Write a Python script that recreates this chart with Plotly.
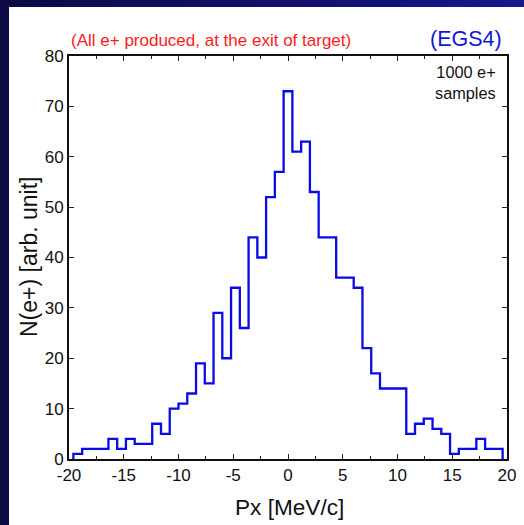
import numpy as np
import plotly.graph_objects as go

# Histogram of positron transverse momentum: 49 bins of 0.8 MeV/c from -19.6 to 19.6
bin_start = -19.6
bin_width = 0.8
counts = [1, 2, 2, 2, 4, 2, 4, 3, 3, 7, 5, 10, 11, 13, 19, 15, 29, 20, 34, 26,
          44, 40, 52, 57, 73, 61, 63, 53, 44, 44, 36, 36, 34, 22, 17, 14, 14, 14,
          5, 7, 8, 6, 5, 1, 2, 2, 4, 2, 2]

x_ticks = [-20, -15, -10, -5, 0, 5, 10, 15, 20]
y_ticks = [0, 10, 20, 30, 40, 50, 60, 70, 80]

W, H = 524, 525
ML, MR, MT, MB = 69, W - 507, 56, H - 459
PW, PH = W - ML - MR, H - MT - MB

edges = bin_start + bin_width * np.arange(len(counts) + 1)
# Step outline closed down to zero at both ends
step_x = np.concatenate([[edges[0]], edges])
step_y = np.concatenate([[0], counts, [0]])

fig = go.Figure()
fig.add_trace(go.Scatter(
    x=step_x, y=step_y, mode="lines",
    line=dict(shape="hv", color="#0a0ae6", width=2.3),
    hoverinfo="skip", showlegend=False,
))


def px_to_paper_x(px):
    return (px - ML) / PW


def px_to_paper_y(py):
    return (H - MB - py) / PH


shapes = []
# Dark left strip
shapes.append(dict(
    type="rect", xref="paper", yref="paper", layer="below",
    x0=px_to_paper_x(0), x1=px_to_paper_x(9),
    y0=px_to_paper_y(H), y1=px_to_paper_y(0),
    fillcolor="rgb(12,10,68)", line=dict(width=0),
))
# Navy-to-blue band along the top
n_band = 40
dark = np.array([13, 10, 69])
bright = np.array([22, 24, 140])
for i in range(n_band):
    f = i / (n_band - 1)
    c = (dark + (bright - dark) * f).astype(int)
    shapes.append(dict(
        type="rect", xref="paper", yref="paper", layer="below",
        x0=px_to_paper_x(W * i / n_band),
        x1=px_to_paper_x(min(W, W * (i + 1) / n_band + 1)),
        y0=px_to_paper_y(7), y1=px_to_paper_y(0),
        fillcolor=f"rgb({c[0]},{c[1]},{c[2]})", line=dict(width=0),
    ))

font_family = "Liberation Sans, Arial, Helvetica, sans-serif"

annotations = [
    dict(text="(All e+ produced, at the exit of target)", x=px_to_paper_x(69), y=px_to_paper_y(40),
         xref="paper", yref="paper", xanchor="left", yanchor="middle", showarrow=False,
         font=dict(family=font_family, size=17, color="#ff1a1a")),
    dict(text="(EGS4)", x=px_to_paper_x(504), y=px_to_paper_y(39),
         xref="paper", yref="paper", xanchor="right", yanchor="middle", showarrow=False,
         font=dict(family=font_family, size=21.5, color="#1414d8")),
    dict(text="1000 e+<br>samples", x=px_to_paper_x(498), y=px_to_paper_y(61),
         xref="paper", yref="paper", xanchor="right", yanchor="top", align="right",
         showarrow=False,
         font=dict(family=font_family, size=16.3, color="#111111")),
    # Axis titles placed explicitly
    dict(text="Px [MeV/c]", x=px_to_paper_x(289), y=px_to_paper_y(508),
         xref="paper", yref="paper", xanchor="center", yanchor="middle", showarrow=False,
         font=dict(family=font_family, size=22.6, color="#111111")),
    dict(text="N(e+) [arb. unit]", x=px_to_paper_x(29), y=px_to_paper_y(257),
         xref="paper", yref="paper", xanchor="center", yanchor="middle", showarrow=False,
         textangle=-90,
         font=dict(family=font_family, size=23, color="#111111")),
]

fig.update_layout(
    width=W, height=H,
    autosize=False,
    margin=dict(l=ML, r=MR, t=MT, b=MB, autoexpand=False),
    paper_bgcolor="white",
    plot_bgcolor="rgba(0,0,0,0)",
    shapes=shapes,
    annotations=annotations,
    font=dict(family=font_family, color="#111111"),
    xaxis=dict(
        range=[-20, 20], tickvals=x_ticks, ticktext=[str(v) for v in x_ticks],
        ticks="inside", ticklen=5, tickwidth=1, tickcolor="#222222",
        minor=dict(dtick=2.5, tick0=-20, ticks="inside", ticklen=3, tickcolor="#222222"),
        showline=True, linewidth=2, linecolor="#111111", mirror="ticks",
        showgrid=False, zeroline=False, automargin=False,
        tickfont=dict(size=17, color="#111111"),
    ),
    yaxis=dict(
        range=[0, 80], tickvals=y_ticks, ticktext=[str(v) for v in y_ticks],
        ticks="inside", ticklen=5, tickwidth=1, tickcolor="#222222",
        showline=True, linewidth=2, linecolor="#111111", mirror="ticks",
        showgrid=False, zeroline=False, automargin=False,
        tickfont=dict(size=17, color="#111111"),
    ),
)

fig.write_html("out.html")
